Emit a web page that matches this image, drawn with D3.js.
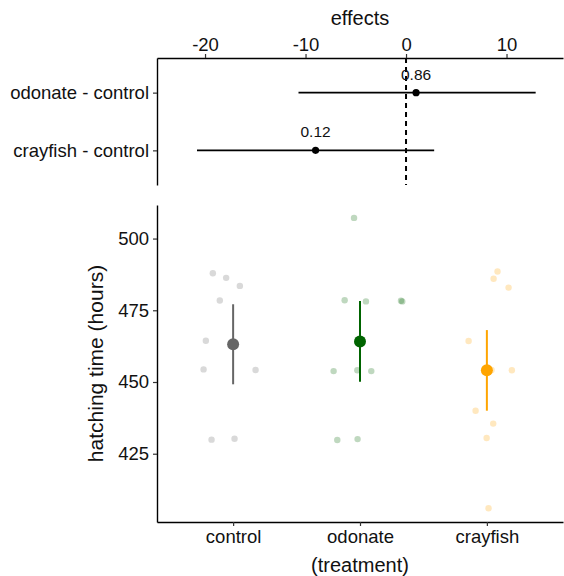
<!DOCTYPE html>
<html>
<head>
<meta charset="utf-8">
<script src="https://cdn.jsdelivr.net/npm/d3@7"></script>
<style>
  body { margin: 0; background: #fff; }
  text { font-family: "Liberation Sans", Arial, sans-serif; fill: #111; }
</style>
</head>
<body>
<script>
// treatments and colours
var treatments = ["control", "odonate", "crayfish"];
var treatColors = ["#666666", "#006400", "#FFA500"];

// raw hatching times (hours) per treatment, with jitter offsets (category units)
var controlTimes = [487.9, 486.3, 483.5, 478.4, 464.4, 454.4, 454.2, 429.9, 430.2];
var controlJitter = [-0.16, -0.055, 0.053, -0.105, -0.215, -0.233, 0.177, -0.17, 0.011];
var odonateTimes = [507.2, 478.5, 478.1, 478.3, 478.1, 453.8, 454.1, 453.8, 429.8, 430.1];
var odonateJitter = [-0.047, -0.121, 0.047, 0.323, 0.333, -0.208, -0.021, 0.089, -0.179, -0.019];
var crayfishTimes = [488.5, 486.0, 482.9, 464.3, 454.1, 454.2, 440.0, 435.5, 430.5, 406.0];
var crayfishJitter = [0.084, 0.053, 0.171, -0.144, 0.197, 0.037, -0.089, 0.05, -0.002, 0.013];

// group means and 95% CI
var groupMeans = [463.2, 464.1, 454.1];
var groupLow = [449.2, 450.1, 440.0];
var groupHigh = [477.1, 478.2, 468.1];

// contrasts (effects panel)
var contrasts = ["odonate - control", "crayfish - control"];
var effectEst = [1.0, -9.0];
var effectLow = [-10.7, -20.8];
var effectHigh = [12.9, 2.8];
var effectP = ["0.86", "0.12"];

var yTicks = [425, 450, 475, 500];
var effectTicks = [-20, -10, 0, 10];

var width = 564, height = 576;
var left = 157, right = 563;

var svg = d3.select("body").append("svg")
    .attr("width", width)
    .attr("height", height);

//style an axis group the same way each time
function styleAxis(g, fontSize){
    g.select(".domain").attr("stroke", "#000").attr("stroke-width", 1.4);
    g.selectAll(".tick line").attr("stroke", "#333").attr("stroke-width", 1.2);
    g.selectAll(".tick text").attr("font-size", fontSize).attr("fill", "#111")
        .attr("font-family", "Liberation Sans, Arial, sans-serif");
}

// ---------- top panel: effects ----------
var ex = d3.scaleLinear().domain([-24.78, 15.62]).range([left, right]);
var ey = d3.scalePoint().domain(contrasts).range([58, 185]).padding(0.6);

var topAxis = svg.append("g")
    .attr("transform", "translate(0,58)")
    .call(d3.axisTop(ex).tickValues(effectTicks).tickSize(4).tickPadding(3).tickSizeOuter(0));
styleAxis(topAxis, 18.5);
topAxis.selectAll(".tick text")
    .text(function(d){ return d < 0 ? "-" + Math.abs(d) : d; });

var leftTop = svg.append("g")
    .attr("transform", "translate(" + left + ",0)")
    .call(d3.axisLeft(ey).tickSize(4).tickPadding(4).tickSizeOuter(0));
styleAxis(leftTop, 18.5);

svg.append("text")
    .attr("x", (left + right) / 2)
    .attr("y", 25)
    .attr("text-anchor", "middle")
    .attr("font-size", 20)
    .text("effects");

// zero line
svg.append("line")
    .attr("x1", ex(0)).attr("x2", ex(0))
    .attr("y1", 58).attr("y2", 185)
    .attr("stroke", "#000")
    .attr("stroke-width", 2)
    .attr("stroke-dasharray", "5,4");

contrasts.forEach(function(c, i){
    var cy = ey(c);
    svg.append("line")
        .attr("x1", ex(effectLow[i])).attr("x2", ex(effectHigh[i]))
        .attr("y1", cy).attr("y2", cy)
        .attr("stroke", "#000").attr("stroke-width", 1.6);
    svg.append("circle")
        .attr("cx", ex(effectEst[i])).attr("cy", cy).attr("r", 3.6)
        .attr("fill", "#000");
    svg.append("text")
        .attr("x", ex(effectEst[i]))
        .attr("y", cy - 13)
        .attr("text-anchor", "middle")
        .attr("font-size", 15.5)
        .text(effectP[i]);
});

// ---------- bottom panel: hatching time ----------
var x = d3.scalePoint().domain(treatments).range([left, right]).padding(0.6);
var y = d3.scaleLinear().domain([401.2, 511.7]).range([522, 205]);

var bottomAxis = svg.append("g")
    .attr("transform", "translate(0,522)")
    .call(d3.axisBottom(x).tickSize(4).tickPadding(4).tickSizeOuter(0));
styleAxis(bottomAxis, 18.5);

var leftAxis = svg.append("g")
    .attr("transform", "translate(" + left + ",0)")
    .call(d3.axisLeft(y).tickValues(yTicks).tickSize(4).tickPadding(4).tickSizeOuter(0));
styleAxis(leftAxis, 18.5);

svg.append("text")
    .attr("x", x("odonate"))
    .attr("y", 572)
    .attr("text-anchor", "middle")
    .attr("font-size", 20)
    .text("(treatment)");

svg.append("text")
    .attr("transform", "translate(103," + ((205 + 522) / 2) + ") rotate(-90)")
    .attr("text-anchor", "middle")
    .attr("font-size", 21)
    .text("hatching time (hours)");

var rawTimes = [controlTimes, odonateTimes, crayfishTimes];
var rawJitter = [controlJitter, odonateJitter, crayfishJitter];

treatments.forEach(function(t, i){
    var pts = rawTimes[i].map(function(v, j){ return { v: v, j: rawJitter[i][j] }; });
    svg.append("g").selectAll("circle")
        .data(pts)
        .enter()
        .append("circle")
        .attr("cx", function(d){ return x(t) + d.j * x.step(); })
        .attr("cy", function(d){ return y(d.v); })
        .attr("r", 3.2)
        .attr("fill", treatColors[i])
        .attr("fill-opacity", 0.25);

    svg.append("line")
        .attr("x1", x(t)).attr("x2", x(t))
        .attr("y1", y(groupLow[i])).attr("y2", y(groupHigh[i]))
        .attr("stroke", treatColors[i]).attr("stroke-width", 2);
    svg.append("circle")
        .attr("cx", x(t)).attr("cy", y(groupMeans[i])).attr("r", 6)
        .attr("fill", treatColors[i]);
});
</script>
</body>
</html>
